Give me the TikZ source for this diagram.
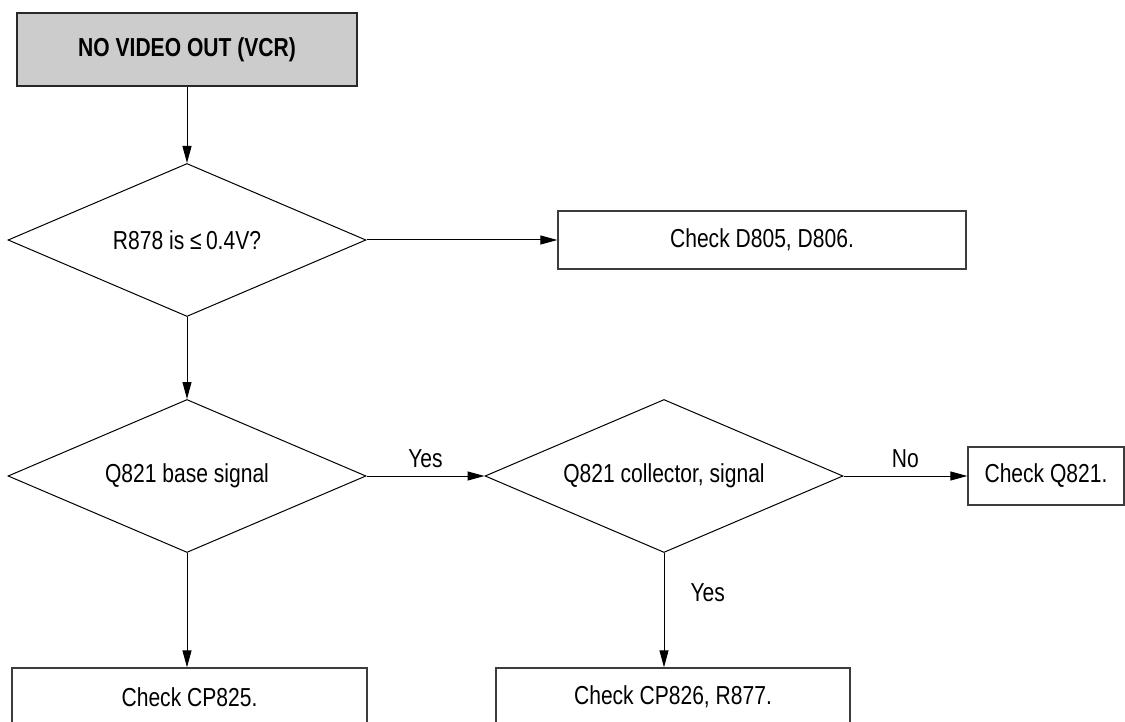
\documentclass[tikz,border=0pt]{standalone}
\usepackage{fontspec}
\setmainfont{Liberation Sans}[FakeStretch=0.81]
\usetikzlibrary{shapes.geometric,arrows.meta}
\begin{document}
\begin{tikzpicture}[x=1pt, y=-1pt,
	every node/.style={font=\fontsize{26}{30}\selectfont},
	titlebox/.style={draw={rgb,255:red, 40; green, 40; blue, 40 }, line width=2pt, fill={rgb,255:red, 204; green, 204; blue, 204 }, minimum width=340pt, minimum height=73pt, inner sep=0pt, font=\fontsize{26}{30}\selectfont\bfseries},
	decision/.style={draw, diamond, aspect=2.34, line width=1pt, minimum width=358pt, minimum height=153pt, inner sep=0pt},
	checkbox/.style={draw={rgb,255:red, 60; green, 60; blue, 60 }, line width=1.3pt, minimum height=58pt, inner sep=0pt},
	flow/.style={line width=1pt, -{Triangle[length=17pt, width=9pt]}},
	answer/.style={inner sep=0pt}]
	\useasboundingbox (0, 0) rectangle (1125, 722);
	\clip (0, 0) rectangle (1125, 722);
	\fill[white] (0, 0) rectangle (1125, 722);
	\node[titlebox] (novideo) at (187, 49.5) {NO VIDEO OUT (VCR)};
	\node[decision] (rcheck) at (187, 240) {R878 is ≤\,0.4V?};
	\node[checkbox, minimum width=408pt] (diodes) at (762, 240) {Check D805, D806.};
	\node[decision] (qbase) at (187, 476) {Q821 base signal};
	\node[decision] (qcoll) at (664, 476) {Q821 collector, signal};
	\node[checkbox, minimum width=156pt] (qcheck) at (1046, 476) {Check Q821.};
	\node[checkbox, minimum width=355pt] (cpfive) at (189.5, 697) {Check CP825.};
	\node[checkbox, minimum width=354pt] (cpsix) at (673, 697) {Check CP826, R877.};
	\draw[flow] (novideo) -- (rcheck);
	\draw[flow] (rcheck) -- (diodes);
	\draw[flow] (rcheck) -- (qbase);
	\draw[flow] (qbase) -- node[answer, above=8pt] {Yes} (qcoll);
	\draw[flow] (qcoll) -- node[answer, above=8pt] {No} (qcheck);
	\draw[flow] (qcoll.south) -- node[answer, pos=0.35, right=26pt] {Yes} (qcoll.south |- cpsix.north);
	\draw[flow] (qbase.south) -- (qbase.south |- cpfive.north);
\end{tikzpicture}
\end{document}
